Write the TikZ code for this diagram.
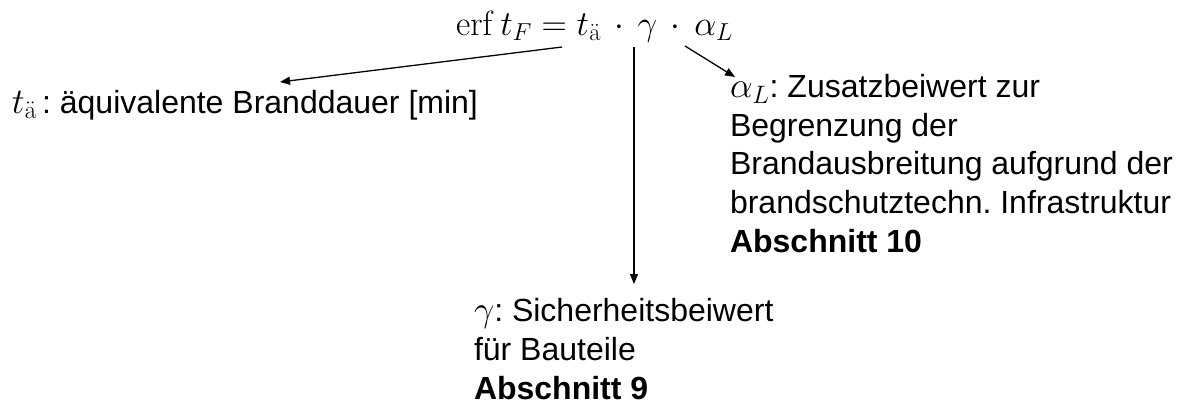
\RequirePackage{fix-cm}
\documentclass[tikz,border=0pt]{standalone}
\usepackage[no-math]{fontspec}
\setmainfont{Liberation Sans}
\usetikzlibrary{arrows.meta}
\frenchspacing
\newcommand{\mymath}[1]{{\fontsize{36}{38.6}\selectfont$#1$}}
\begin{document}
\begin{tikzpicture}[x=1pt,y=-1pt,
  txt/.style={inner sep=0pt, outer sep=0pt, font=\fontsize{32}{38.6}\selectfont, align=left},
  eqn/.style={inner sep=0pt, outer sep=0pt, font=\fontsize{35}{38.6}\selectfont},
  arr/.style={line width=1.3pt, -{Triangle[length=10pt,width=8pt]}}]
\useasboundingbox (0,0) rectangle (1190,408);
\fill[white] (0,0) rectangle (1190,408);
\node[eqn, anchor=base] (eq) at (594.5,35)
  {$\mathrm{erf}\,t_F = t_{\ddot{\mathrm{a}}}\,\cdot\,\gamma\,\cdot\,\alpha_L$};
\node[txt, anchor=base west] (td) at (12,113)
  {\mymath{t_{\ddot{\mathrm{a}}}}\,: äquivalente Branddauer [min]};
\node[txt, anchor=base west] (al) at (730,252)
  {\mymath{\alpha_L}: Zusatzbeiwert zur\\Begrenzung der\\Brandausbreitung aufgrund der\\brandschutztechn. Infrastruktur\\\textbf{Abschnitt 10}};
\node[txt, anchor=base west] (ga) at (474,399)
  {\mymath{\gamma}: Sicherheitsbeiwert\\für Bauteile\\\textbf{Abschnitt 9}};
\coordinate (s1) at (562,47);
\coordinate (e1) at (280,82);
\coordinate (s2) at (634,47);
\coordinate (e2) at (634,284);
\coordinate (s3) at (685,46);
\coordinate (e3) at (735,77);
\draw[arr] (s1) -- (e1);
\draw[arr] (s2) -- (e2);
\draw[arr] (s3) -- (e3);
\end{tikzpicture}
\end{document}
